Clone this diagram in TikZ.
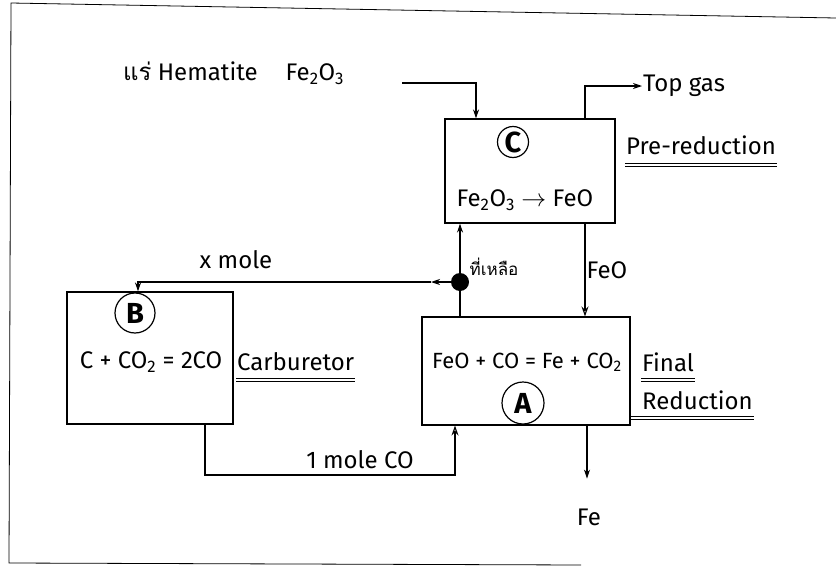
\documentclass[tikz,border=0pt]{standalone}
\usepackage{fontspec}
\setmainfont{Fira Sans}
\newfontfamily\thaifont[Script=Thai]{Loma}
\usetikzlibrary{arrows.meta, positioning}

\begin{document}
\begin{tikzpicture}[x=1pt, y=-1pt,
    box/.style={draw, line width=1.1pt, inner sep=0pt},
    lbl/.style={font=\fontsize{24}{28}\selectfont, inner sep=1pt},
    circ/.style={draw, circle, line width=1.2pt, inner sep=0pt, font=\fontsize{29}{30}\selectfont\bfseries},
    rule/.style={line width=0.8pt},
    flow/.style={line width=1.1pt, -{Stealth[length=9pt, width=6pt]}},
    hollow/.style={line width=1.1pt, -{Stealth[open, length=10pt, width=7pt]}}]
        \useasboundingbox (0,0) rectangle (836,573);

        % Frame
        \draw[line width=0.8pt] (836,18) -- (11,3) -- (9,563) -- (581,565);

        % Boxes
        \node[box, minimum width=170, minimum height=104] (boxC) at (530,171) {};
        \node[circ, minimum size=31] (circC) at (513,142) {C};
        \node[lbl] (eqC) at (525,200) {Fe\textsubscript{2}O\textsubscript{3} $\rightarrow$ FeO};

        \node[box, minimum width=166, minimum height=132] (boxB) at (150,358) {};
        \node[circ, minimum size=40] (circB) at (135,313) {B};
        \node[lbl] (eqB) at (151,362) {C + CO\textsubscript{2} = 2CO};

        \node[box, minimum width=208, minimum height=108] (boxA) at (526,371) {};
        \node[lbl, font=\fontsize{22}{26}\selectfont] (eqA) at (527,362) {FeO + CO = Fe + CO\textsubscript{2}};
        \node[circ, minimum size=42] (circA) at (523,403) {A};

        % Labels
        \node[lbl, anchor=west] (ore) at (122,73) {{\thaifont แร่} Hematite\hspace{28pt}Fe\textsubscript{2}O\textsubscript{3}};
        \node[lbl, anchor=west] (topgas) at (642,86) {Top gas};
        \node[lbl, anchor=west] (pre) at (625,145) {Pre-reduction};
        \node[lbl, anchor=west] (carb) at (236,362) {Carburetor};
        \node[lbl, anchor=west] (final) at (641,362) {Final};
        \node[lbl, anchor=west] (reduc) at (641,400) {Reduction};
        \node[lbl] (xmole) at (236,260) {x mole};
        \node[lbl] (onemole) at (360,460) {1 mole CO};
        \node[lbl] (fe) at (589,517) {Fe};
        \node[lbl, font=\thaifont\fontsize{17}{19}\selectfont] (rest) at (494,267) {ที่เหลือ};

        % Splitting point
        \node[circle, fill, inner sep=0pt, minimum size=18] (junc) at (460,282) {};
        \coordinate (split) at (431,282);
        \coordinate (oreEnd) at (402,83);

        % Flows
        \draw[flow] (oreEnd) -| (boxC.north -| 476,0);
        \draw[flow] (boxC.north -| 585,0) |- (topgas.west);
        \draw[hollow] (boxC.south -| 585,0) -- node[lbl, right] (feo) {FeO} (boxA.north -| 585,0);
        \draw[flow] (boxA.south -| 587,0) -- ++(0,53);
        \draw[line width=1.1pt] (boxA.north -| junc) -- (junc);
        \draw[flow] (junc) -- (boxC.south -| junc);
        \draw[flow] (junc) -- (split);
        \draw[flow] (split) -| (boxB.north -| 138,0);
        \draw[hollow] (boxB.south -| 205,0) |- (455,475) -- (boxA.south -| 455,0);

        % Underlines
        \draw[rule] (pre.west |- 0,163) -- (pre.east |- 0,163) (pre.west |- 0,166) -- (pre.east |- 0,166);
        \draw[rule] (carb.west |- 0,378) -- (carb.east |- 0,378) (carb.west |- 0,381) -- (carb.east |- 0,381);
        \draw[rule] (final.west |- 0,378) -- (final.east |- 0,378) (final.west |- 0,381) -- (final.east |- 0,381);
        \draw[rule] (boxA.east |- 0,416) -- (reduc.east |- 0,416) (boxA.east |- 0,419) -- (reduc.east |- 0,419);
    \end{tikzpicture}
\end{document}
